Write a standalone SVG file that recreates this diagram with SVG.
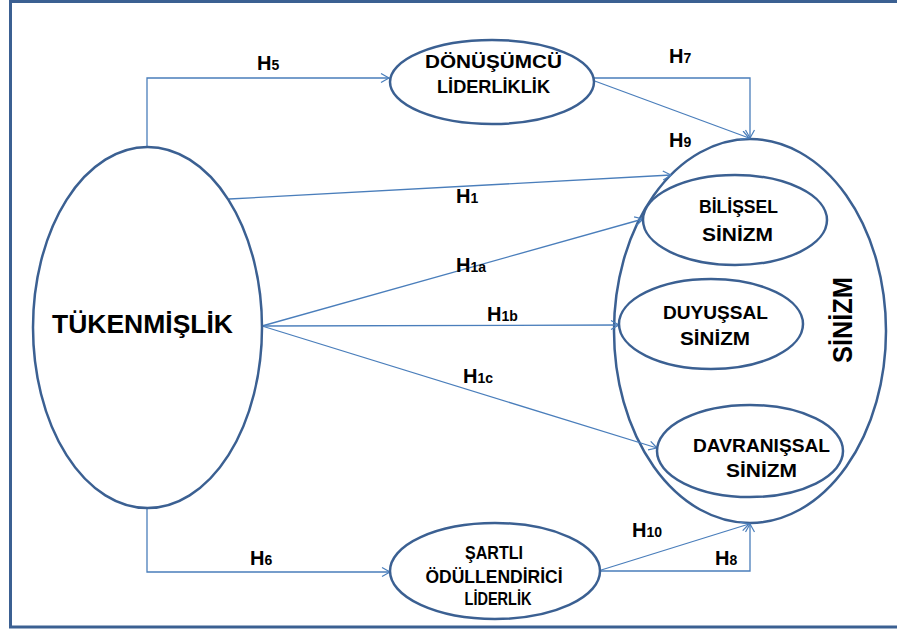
<svg xmlns="http://www.w3.org/2000/svg" width="897" height="632" viewBox="0 0 897 632">
<defs>
<marker id="arr" markerUnits="userSpaceOnUse" markerWidth="12" markerHeight="12" refX="9" refY="5" orient="auto">
<path d="M1,0.5 L9,5 L1,9.5" fill="none" stroke="#4a7ebb" stroke-width="1.2"/>
</marker>
<style>
.frame{fill:none;stroke:#3b6092;stroke-width:3}
.node{fill:#fff;stroke:#3b6092;stroke-width:2.5}
.conn{fill:none;stroke:#4a7ebb;stroke-width:1.3;marker-end:url(#arr)}
.t{font-family:"Liberation Sans",Arial,sans-serif;font-weight:bold;fill:#000}
.lbl{font-family:"Liberation Sans",Arial,sans-serif;font-weight:bold;font-size:20px;fill:#000}
.sub{font-size:14px}
</style>
</defs>
<rect width="897" height="632" fill="#fff"/>
<rect class="frame" x="10.5" y="1.5" width="900" height="625.5"/>

<g id="n-sinizm">
<ellipse class="node" cx="750" cy="331" rx="136" ry="192"/>
<text class="t" font-size="28" text-anchor="middle" textLength="86" lengthAdjust="spacingAndGlyphs" transform="translate(852,320) rotate(-90)">SİNİZM</text>
</g>

<g id="connectors">
<path class="conn" d="M147,147 V78 H389"/>
<path class="conn" d="M590,78 H750 V138"/>
<path class="conn" d="M592,80 L749,138"/>
<path class="conn" d="M229,199 L671,175"/>
<path class="conn" d="M262,326 L643,219"/>
<path class="conn" d="M262,326 L619,325"/>
<path class="conn" d="M262,326 L657,448"/>
<path class="conn" d="M147,508 V572 H390"/>
<path class="conn" d="M598,571 H750 V524"/>
<path class="conn" d="M598,571 L749,524"/>
</g>

<g id="n-tukenmislik">
<ellipse class="node" cx="147.5" cy="327.5" rx="114.5" ry="180.5"/>
<text class="t" font-size="26" x="142.5" y="333" text-anchor="middle" textLength="181" lengthAdjust="spacingAndGlyphs">TÜKENMİŞLİK</text>
</g>

<g id="n-donusumcu">
<ellipse class="node" cx="492" cy="82" rx="102" ry="42"/>
<text class="t" font-size="19" x="493.5" y="68" text-anchor="middle" textLength="137" lengthAdjust="spacingAndGlyphs">DÖNÜŞÜMCÜ</text>
<text class="t" font-size="19" x="493.5" y="93" text-anchor="middle" textLength="113" lengthAdjust="spacingAndGlyphs">LİDERLİKLİK</text>
</g>

<g id="n-sartli">
<ellipse class="node" cx="495" cy="571" rx="105" ry="48"/>
<text class="t" font-size="19" x="494" y="559" text-anchor="middle" textLength="58" lengthAdjust="spacingAndGlyphs">ŞARTLI</text>
<text class="t" font-size="19" x="494" y="583" text-anchor="middle" textLength="137" lengthAdjust="spacingAndGlyphs">ÖDÜLLENDİRİCİ</text>
<text class="t" font-size="19" x="498" y="605" text-anchor="middle" textLength="67" lengthAdjust="spacingAndGlyphs">LİDERLİK</text>
</g>

<g id="n-bilissel">
<ellipse class="node" cx="735" cy="220" rx="92" ry="45"/>
<text class="t" font-size="19" x="738.5" y="213" text-anchor="middle" textLength="79" lengthAdjust="spacingAndGlyphs">BİLİŞSEL</text>
<text class="t" font-size="19" x="737.5" y="241" text-anchor="middle" textLength="71" lengthAdjust="spacingAndGlyphs">SİNİZM</text>
</g>

<g id="n-duyussal">
<ellipse class="node" cx="711" cy="324" rx="92" ry="45"/>
<text class="t" font-size="19" x="715.5" y="319" text-anchor="middle" textLength="105" lengthAdjust="spacingAndGlyphs">DUYUŞSAL</text>
<text class="t" font-size="19" x="715" y="345" text-anchor="middle" textLength="70" lengthAdjust="spacingAndGlyphs">SİNİZM</text>
</g>

<g id="n-davranissal">
<ellipse class="node" cx="750" cy="451" rx="93" ry="46"/>
<text class="t" font-size="19" x="761.5" y="452" text-anchor="middle" textLength="137" lengthAdjust="spacingAndGlyphs">DAVRANIŞSAL</text>
<text class="t" font-size="19" x="761.5" y="477" text-anchor="middle" textLength="71" lengthAdjust="spacingAndGlyphs">SİNİZM</text>
</g>

<g id="labels">
<text class="lbl" x="257" y="70">H<tspan class="sub">5</tspan></text>
<text class="lbl" x="669" y="63">H<tspan class="sub">7</tspan></text>
<text class="lbl" x="669" y="147">H<tspan class="sub">9</tspan></text>
<text class="lbl" x="456" y="203">H<tspan class="sub">1</tspan></text>
<text class="lbl" x="456" y="272">H<tspan class="sub">1a</tspan></text>
<text class="lbl" x="487" y="321">H<tspan class="sub">1b</tspan></text>
<text class="lbl" x="463" y="383">H<tspan class="sub">1c</tspan></text>
<text class="lbl" x="250" y="565">H<tspan class="sub">6</tspan></text>
<text class="lbl" x="632" y="537">H<tspan class="sub">10</tspan></text>
<text class="lbl" x="715" y="565">H<tspan class="sub">8</tspan></text>
</g>
</svg>
